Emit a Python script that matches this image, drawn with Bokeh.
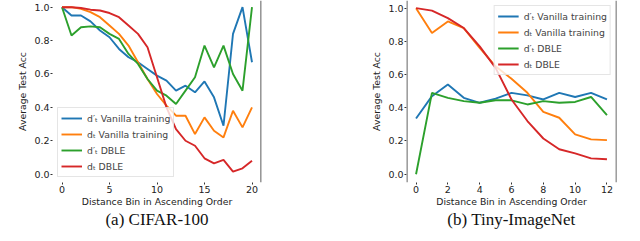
from bokeh.plotting import figure
from bokeh.layouts import row
from bokeh.models import Range1d, Span, Title, FixedTicker, NumeralTickFormatter
from bokeh.embed import file_html
from bokeh.resources import INLINE

# ---- data: CIFAR-100 ----
cifar_x = list(range(21))
cifar_dprime_vanilla = [1.0, 0.95, 0.95, 0.915, 0.86, 0.82, 0.75, 0.70, 0.67, 0.63, 0.59,
                        0.56, 0.50, 0.53, 0.49, 0.555, 0.46, 0.29, 0.84, 1.0, 0.67]
cifar_d_vanilla = [1.0, 1.0, 0.99, 0.97, 0.94, 0.89, 0.84, 0.77, 0.67, 0.57, 0.48,
                   0.41, 0.35, 0.35, 0.24, 0.34, 0.26, 0.22, 0.38, 0.28, 0.40]
cifar_dprime_dble = [1.0, 0.83, 0.88, 0.885, 0.88, 0.84, 0.81, 0.72, 0.66, 0.57, 0.50,
                     0.47, 0.42, 0.50, 0.58, 0.77, 0.64, 0.77, 0.60, 0.50, 1.0]
cifar_d_dble = [1.0, 1.0, 0.995, 0.985, 0.98, 0.965, 0.94, 0.89, 0.84, 0.76, 0.58,
                0.40, 0.27, 0.20, 0.17, 0.095, 0.065, 0.085, 0.015, 0.035, 0.08]

# ---- data: Tiny-ImageNet ----
tiny_x = list(range(13))
tiny_dprime_vanilla = [0.335, 0.47, 0.54, 0.46, 0.43, 0.455, 0.49, 0.475, 0.45, 0.49, 0.465, 0.49, 0.45]
tiny_d_vanilla = [1.0, 0.85, 0.92, 0.88, 0.76, 0.65, 0.575, 0.49, 0.375, 0.34, 0.24, 0.21, 0.205]
tiny_dprime_dble = [0.0, 0.49, 0.46, 0.44, 0.43, 0.445, 0.445, 0.42, 0.44, 0.43, 0.435, 0.465, 0.355]
tiny_d_dble = [1.0, 0.985, 0.94, 0.88, 0.77, 0.64, 0.45, 0.32, 0.215, 0.15, 0.125, 0.095, 0.09]

series_labels = ["d\u2032\u209c Vanilla training", "d\u209c Vanilla training",
                 "d\u2032\u209c DBLE", "d\u209c DBLE"]
colors = ["#1f77b4", "#ff7f0e", "#2ca02c", "#d62728"]
y_ticks = [0.0, 0.2, 0.4, 0.6, 0.8, 1.0]
cifar_ticks = [0, 5, 10, 15, 20]
tiny_ticks = [0, 2, 4, 6, 8, 10, 12]

FONT = "DejaVu Sans"


def make_fig(xs, ys_list, xr, yr, xticks, caption, width, bl, br, bb, legend_loc):
    p = figure(width=width, height=241, output_backend="svg", toolbar_location=None,
               x_range=Range1d(*xr), y_range=Range1d(*yr),
               min_border_left=bl, min_border_right=br, min_border_top=0,
               min_border_bottom=bb)
    p.outline_line_color = None
    p.grid.visible = False
    for ys, c, lab in zip(ys_list, colors, series_labels):
        p.line(xs, ys, line_color=c, line_width=1.9, legend_label=lab)
    for ax in (p.xaxis[0], p.yaxis[0]):
        ax.axis_line_color = None
        ax.major_tick_out = 2
        ax.major_tick_in = 0
        ax.minor_tick_line_color = None
        ax.major_tick_line_color = "#333333"
        ax.major_label_text_font = FONT
        ax.major_label_text_font_size = "9.5px"
        ax.major_label_text_color = "#222222"
        ax.axis_label_text_font = FONT
        ax.axis_label_text_font_size = "9.3px"
        ax.axis_label_text_font_style = "normal"
        ax.axis_label_text_color = "#222222"
        ax.major_label_standoff = 1
    p.xaxis.ticker = FixedTicker(ticks=xticks)
    p.yaxis.ticker = FixedTicker(ticks=y_ticks)
    p.yaxis.formatter = NumeralTickFormatter(format="0.0")
    p.xaxis.axis_label = "Distance Bin in Ascending Order"
    p.yaxis.axis_label = "Average Test Acc"
    p.xaxis.axis_label_standoff = 0
    p.yaxis.axis_label_standoff = 3
    p.add_layout(Title(text=caption, align="center", vertical_align="top",
                       text_font="Liberation Serif",
                       text_font_size="17px", text_font_style="normal",
                       text_color="#111111", standoff=0), "below")
    lg = p.legend[0]
    lg.location = legend_loc
    lg.label_text_font = FONT
    lg.label_text_font_size = "9.3px"
    lg.glyph_width = 21
    lg.glyph_height = 14
    lg.label_height = 14
    lg.spacing = 2
    lg.padding = 3
    lg.margin = 5
    lg.label_standoff = 5
    lg.border_line_color = "#cccccc"
    lg.background_fill_alpha = 0.8
    return p


p1 = make_fig(cifar_x, [cifar_dprime_vanilla, cifar_d_vanilla, cifar_dprime_dble, cifar_d_dble],
              (-1, 21), (-0.05, 1.04), cifar_ticks, "(a) CIFAR-100", 320, 52, 59, 58, "bottom_left")
p1.add_layout(Span(location=20.96, dimension="height", line_color="#8a8a8a", line_width=2))

p2 = make_fig(tiny_x, [tiny_dprime_vanilla, tiny_d_vanilla, tiny_dprime_dble, tiny_d_dble],
              (-0.6, 12.6), (-0.05, 1.046), tiny_ticks, "(b) Tiny-ImageNet", 320, 86, 24, 59, "top_right")
p2.add_layout(Span(location=-0.58, dimension="height", line_color="#8a8a8a", line_width=2))
p2.add_layout(Span(location=12.59, dimension="height", line_color="#333333", line_width=1.2))

layout = row(p1, p2)
open("out.html", "w").write(file_html(layout, INLINE))
